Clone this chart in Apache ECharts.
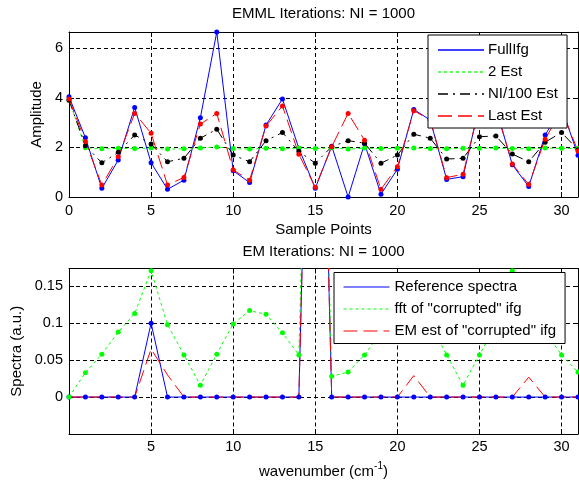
<!DOCTYPE html>
<html>
<head>
<meta charset="utf-8">
<script src="https://cdn.jsdelivr.net/npm/echarts@6/dist/echarts.min.js"></script>
<style>html,body{margin:0;padding:0;background:#fff;}#c{width:579px;height:481px;}</style>
</head>
<body>
<div id="c"></div>
<script>
// ---- data ----
const sampleIdx = [0,1,2,3,4,5,6,7,8,9,10,11,12,13,14,15,16,17,18,19,20,21,22,23,24,25,26,27,28,29,30,31];
const fullIfg   = [4.04,2.39,0.35,1.49,3.61,1.38,0.31,0.68,3.19,6.65,1.06,0.58,2.90,3.95,1.96,0.35,2.05,0.00,2.15,0.11,1.12,3.53,3.10,0.71,0.82,3.70,3.60,1.30,0.42,2.50,3.60,1.68];
const est2      = [3.92,1.98,1.94,1.96,1.95,1.97,1.93,1.94,1.97,2.02,1.95,1.93,1.96,1.94,1.97,1.95,1.98,1.93,1.97,1.95,1.96,1.97,1.95,1.94,1.96,1.96,1.97,1.95,1.94,1.97,1.96,1.95];
const estNI100  = [3.90,2.07,1.38,1.80,2.50,2.14,1.42,1.56,2.37,2.73,1.69,1.42,2.27,2.60,1.84,1.36,2.03,2.27,2.17,1.36,1.69,2.53,2.37,1.53,1.56,2.43,2.46,1.73,1.42,2.21,2.60,1.90];
const lastEst   = [3.95,2.24,0.48,1.62,3.37,2.57,0.48,0.79,2.94,3.37,1.09,0.68,2.86,3.67,1.72,0.39,2.03,3.37,2.29,0.31,1.22,3.48,3.10,0.78,0.92,3.65,3.55,1.33,0.50,2.33,3.50,1.85];

const wavenumber   = [0,1,2,3,4,5,6,7,8,9,10,11,12,13,14,15,16,17,18,19,20,21,22,23,24,25,26,27,28,29,30,31];
const refSpectra   = [0,0,0,0,0,0.100,0,0,0,0,0,0,0,0,0,0.90,0,0,0,0,0,0,0,0,0,0,0,0,0,0,0,0];
const fftCorrupted = [0,0.033,0.058,0.088,0.113,0.171,0.098,0.057,0.016,0.058,0.099,0.117,0.112,0.087,0.057,0.90,0.028,0.034,0.057,0.088,0.112,0.117,0.099,0.057,0.016,0.057,0.098,0.171,0.113,0.088,0.057,0.034];
const emEst        = [0,0,0,0,0,0.065,0.030,0,0,0,0,0,0,0,0,0.90,0,0,0,0,0,0.029,0,0,0,0,0,0,0.027,0,0,0];

const topTitle = 'EMML Iterations: NI = 1000';
const botTitle = 'EM Iterations: NI = 1000';
const topNames = ['FullIfg', '2 Est', 'NI/100 Est', 'Last Est'];
const botNames = ['Reference spectra', 'fft of "corrupted" ifg', 'EM est of "corrupted" ifg'];

// ---- chart ----
const FONT = '"Liberation Sans", Arial, Helvetica, sans-serif';
const BLUE = '#0000ff', GREEN = '#00ff00', RED = '#ff0000', BLACK = '#000000';
const SOLID = 'solid', DOTTED = [3, 3], DASHDOT = [10, 5, 2, 5], DASHED = [14, 6];
const pairs = (xs, ys) => xs.map((x, i) => [x, ys[i]]);
const gridLine = { show: true, lineStyle: { color: BLACK, width: 1, type: [4, 3] } };
const tickFont = { fontFamily: FONT, fontSize: 14.5, color: BLACK };

// legend layout
const LEG_PAD = [7, 9, 5, 9], LEG_ITEM_W = 46, LEG_ROW = 15, LEG_GAP = 7;
const topLeg = { left: 428, top: 35 };
const botLeg = { left: 334, top: 272.5 };

function mainX(grid, hideZero, margin) {
  return {
    type: 'value', gridIndex: grid, min: 0, max: 31, interval: 5,
    axisLine: { show: true, onZero: false, lineStyle: { color: BLACK, width: 1 } },
    axisTick: { show: true, inside: true, length: 5, lineStyle: { color: BLACK } },
    axisLabel: Object.assign({ margin: margin, showMaxLabel: false, showMinLabel: !hideZero }, tickFont),
    splitLine: gridLine
  };
}
function sideX(grid) {
  return {
    type: 'value', gridIndex: grid, position: 'top', min: 0, max: 31, interval: 5,
    axisLine: { show: true, onZero: false, lineStyle: { color: BLACK, width: 1 } },
    axisTick: { show: true, inside: true, length: 5, lineStyle: { color: BLACK } },
    axisLabel: { show: false }, splitLine: { show: false }
  };
}
function sideY(grid, min, max, interval) {
  return {
    type: 'value', gridIndex: grid, position: 'right', min: min, max: max, interval: interval,
    axisLine: { show: true, onZero: false, lineStyle: { color: BLACK, width: 1 } },
    axisTick: { show: true, inside: true, length: 5, lineStyle: { color: BLACK } },
    axisLabel: { show: false }, splitLine: { show: false }
  };
}

function lineSeries(name, xi, yi, data, color, type, sym) {
  return {
    name: name, type: 'line', xAxisIndex: xi, yAxisIndex: yi, data: data,
    symbol: sym ? 'circle' : 'none', symbolSize: 5, showSymbol: !!sym, showAllSymbol: true,
    lineStyle: { color: color, width: 1, type: type },
    itemStyle: { color: color, borderWidth: 0 },
    emphasis: { disabled: true }, silent: true, animation: false, clip: true
  };
}

function legendCfg(names, colors, types, pos, hideIcons) {
  return {
    data: names.map((n, i) => {
      const d = {
        name: n,
        lineStyle: { color: colors[i], type: types[i], width: 1 },
        itemStyle: { color: colors[i], opacity: 0 }
      };
      if (hideIcons) d.icon = 'none';
      return d;
    }),
    orient: 'vertical', left: pos.left, top: pos.top,
    padding: LEG_PAD, itemWidth: LEG_ITEM_W, itemHeight: 14, itemGap: LEG_GAP,
    backgroundColor: '#ffffff', borderColor: BLACK, borderWidth: 1, borderRadius: 0,
    textStyle: { fontFamily: FONT, fontSize: 15, color: BLACK },
    itemStyle: { opacity: 0 }, lineStyle: { width: 1 },
    selectedMode: false, z: 5
  };
}

// sample lines for the top legend, drawn as graphic lines on their own layer
function legendSampleLines(pos, colors, types) {
  return colors.map((c, i) => {
    const y = Math.round(pos.top + LEG_PAD[0] + LEG_ROW / 2 + i * (LEG_ROW + LEG_GAP));
    const x0 = pos.left + LEG_PAD[3] + 1;
    return {
      type: 'line', zlevel: 1, z: 100, silent: true,
      shape: { x1: x0, y1: y, x2: x0 + LEG_ITEM_W, y2: y },
      style: { stroke: c, lineWidth: 1.3, lineDash: types[i] === 'solid' ? null : types[i] }
    };
  });
}

const topColors = [BLUE, GREEN, BLACK, RED], topTypes = [SOLID, DOTTED, DASHDOT, DASHED];

const option = {
  animation: false,
  backgroundColor: '#ffffff',
  textStyle: { fontFamily: FONT },
  title: [
    { text: topTitle, left: 323.5, top: 6.5, textAlign: 'center', padding: 0,
      textStyle: { fontFamily: FONT, fontSize: 15, fontWeight: 'normal', color: BLACK } },
    { text: botTitle, left: 323.5, top: 244.5, textAlign: 'center', padding: 0,
      textStyle: { fontFamily: FONT, fontSize: 15, fontWeight: 'normal', color: BLACK } }
  ],
  grid: [
    { left: 69, right: 1, top: 32, height: 165, containLabel: false },
    { left: 69, right: 1, top: 268.5, height: 165.5, containLabel: false }
  ],
  xAxis: [
    Object.assign(mainX(0, false, 6), { name: 'Sample Points', nameLocation: 'middle', nameGap: 25,
      nameTextStyle: { fontFamily: FONT, fontSize: 15, color: BLACK } }),
    sideX(0),
    Object.assign(mainX(1, true, 5), { name: '{n|wavenumber (cm}{s|-1}{n|)}', nameLocation: 'middle', nameGap: 30,
      nameTextStyle: { fontFamily: FONT, fontSize: 15, color: BLACK,
        rich: { n: { fontFamily: FONT, fontSize: 15, color: BLACK, verticalAlign: 'bottom' },
                s: { fontFamily: FONT, fontSize: 10, color: BLACK, verticalAlign: 'bottom', lineHeight: 10, padding: [0, 0, 8, 0] } } } }),
    sideX(1)
  ],
  yAxis: [
    { type: 'value', gridIndex: 0, min: 0, max: 6.65, interval: 2,
      axisLine: { show: true, onZero: false, lineStyle: { color: BLACK, width: 1 } },
      axisTick: { show: true, inside: true, length: 5, lineStyle: { color: BLACK } },
      axisLabel: Object.assign({ margin: 6, showMaxLabel: false }, tickFont),
      splitLine: gridLine,
      name: 'Amplitude', nameLocation: 'middle', nameGap: 22,
      nameTextStyle: { fontFamily: FONT, fontSize: 15, color: BLACK } },
    sideY(0, 0, 6.65, 2),
    { type: 'value', gridIndex: 1, min: -0.05, max: 0.174, interval: 0.05,
      axisLine: { show: true, onZero: false, lineStyle: { color: BLACK, width: 1 } },
      axisTick: { show: true, inside: true, length: 5, lineStyle: { color: BLACK } },
      axisLabel: Object.assign({ margin: 6, showMaxLabel: false, showMinLabel: false }, tickFont),
      splitLine: gridLine,
      name: 'Spectra (a.u.)', nameLocation: 'middle', nameGap: 41,
      nameTextStyle: { fontFamily: FONT, fontSize: 15, color: BLACK } },
    sideY(1, -0.05, 0.174, 0.05)
  ],
  legend: [
    legendCfg(topNames, topColors, topTypes, topLeg, true),
    legendCfg(botNames, [BLUE, GREEN, RED], [SOLID, DOTTED, DASHED], botLeg, false)
  ],
  graphic: { elements: legendSampleLines(topLeg, topColors, topTypes) },
  series: [
    lineSeries(topNames[0], 0, 0, pairs(sampleIdx, fullIfg), BLUE, SOLID, true),
    lineSeries(topNames[1], 0, 0, pairs(sampleIdx, est2), GREEN, DOTTED, true),
    lineSeries(topNames[2], 0, 0, pairs(sampleIdx, estNI100), BLACK, DASHDOT, true),
    lineSeries(topNames[3], 0, 0, pairs(sampleIdx, lastEst), RED, DASHED, true),
    lineSeries(botNames[0], 2, 2, pairs(wavenumber, refSpectra), BLUE, SOLID, true),
    lineSeries(botNames[1], 2, 2, pairs(wavenumber, fftCorrupted), GREEN, DOTTED, true),
    lineSeries(botNames[2], 2, 2, pairs(wavenumber, emEst), RED, DASHED, false)
  ]
};

const chart = echarts.init(document.getElementById('c'), null, { renderer: 'canvas' });
chart.setOption(option);
</script>
</body>
</html>
